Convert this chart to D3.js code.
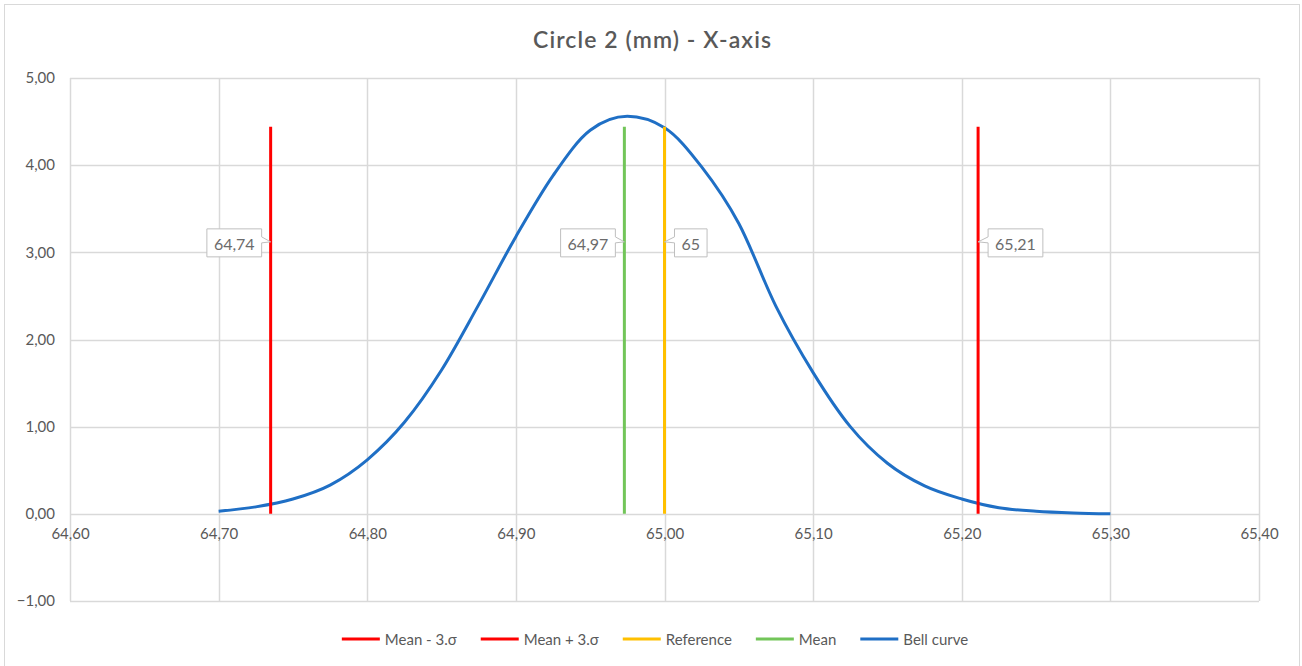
<!DOCTYPE html>
<html>
<head>
<meta charset="utf-8">
<script src="https://cdnjs.cloudflare.com/ajax/libs/d3/7.8.5/d3.min.js"></script>
<style>
  html, body { margin: 0; padding: 0; background: #fff; }
  svg { display: block; font-family: Lato, "Open Sans", sans-serif; }
</style>
</head>
<body>
<svg id="chart" width="1302" height="666"></svg>
<script>
// ---- data ----
const title = "Circle 2 (mm) - X-axis";
const xTicks = [64.6, 64.7, 64.8, 64.9, 65.0, 65.1, 65.2, 65.3, 65.4];
const yTicks = [-1, 0, 1, 2, 3, 4, 5];

const bellX = [64.700, 64.725, 64.750, 64.775, 64.800, 64.825, 64.850, 64.875, 64.900, 64.925,
               64.950, 64.975, 65.000, 65.025, 65.050, 65.075, 65.100, 65.125, 65.150, 65.175,
               65.200, 65.225, 65.250, 65.275, 65.300];
const bellY = [0.03, 0.08, 0.17, 0.33, 0.62, 1.05, 1.65, 2.40, 3.18, 3.88,
               4.40, 4.56, 4.43, 3.98, 3.33, 2.38, 1.62, 1.00, 0.58, 0.32,
               0.17, 0.07, 0.03, 0.01, 0.00];

const vNames  = ["Mean - 3.σ", "Mean + 3.σ", "Reference", "Mean"];
const vValues = [64.735, 65.211, 65.000, 64.973];
const vLabels = ["64,74", "65,21", "65", "64,97"];
const vLabelSide = ["left", "right", "right", "left"];
const vColors = ["#ff0000", "#ff0000", "#ffc000", "#72c559"];
const vTop = 4.44;
const vLabelAt = 3.12;

const legendNames  = ["Mean - 3.σ", "Mean + 3.σ", "Reference", "Mean", "Bell curve"];
const legendColors = ["#ff0000", "#ff0000", "#ffc000", "#72c559", "#1f6fc5"];
const bellColor = "#1f6fc5";

// ---- layout ----
const svg = d3.select("#chart");
const W = 1302, H = 666;
const plot = { left: 70, right: 1259, top: 78, bottom: 601 };
const x = d3.scaleLinear().domain([64.6, 65.4]).range([plot.left, plot.right]);
const y = d3.scaleLinear().domain([-1, 5]).range([plot.bottom, plot.top]);
const fmt = v => d3.format(".2f")(v).replace(".", ",");
const textColor = "#595959";
const gridColor = "#d9d9d9";

// outer frame
svg.append("rect").attr("x", 4.5).attr("y", 4.5).attr("width", 1295).attr("height", H)
  .attr("fill", "#fff").attr("stroke", "#d9d9d9").attr("stroke-width", 1);

// title
svg.append("text").attr("x", 652).attr("y", 48).attr("text-anchor", "middle")
  .attr("font-size", 23).attr("font-weight", 600).attr("fill", textColor)
  .attr("textLength", 238).attr("lengthAdjust", "spacing").text(title);

// grid
const g = svg.append("g");
g.selectAll("line.gx").data(xTicks).join("line").attr("class", "gx")
  .attr("x1", d => Math.round(x(d)) + 0.5).attr("x2", d => Math.round(x(d)) + 0.5)
  .attr("y1", plot.top).attr("y2", plot.bottom)
  .attr("stroke", gridColor).attr("stroke-width", 1.5);
g.selectAll("line.gy").data(yTicks).join("line").attr("class", "gy")
  .attr("y1", d => Math.round(y(d)) + 0.5).attr("y2", d => Math.round(y(d)) + 0.5)
  .attr("x1", plot.left).attr("x2", plot.right)
  .attr("stroke", gridColor).attr("stroke-width", 1.5);

// y axis labels
const yAxis = d3.axisLeft(y).tickValues(yTicks).tickFormat(fmt).tickSize(0).tickPadding(15);
const ya = svg.append("g").attr("transform", `translate(${plot.left},0)`).call(yAxis);
ya.select(".domain").remove();
ya.selectAll("text").attr("font-size", 15).attr("fill", textColor).attr("font-family", "Lato, sans-serif");

// x axis labels (at zero line)
const xAxis = d3.axisBottom(x).tickValues(xTicks).tickFormat(fmt).tickSize(0).tickPadding(15);
const xa = svg.append("g").attr("transform", `translate(0,${y(0)})`).call(xAxis);
xa.select(".domain").remove();
xa.selectAll("text").attr("font-size", 15).attr("fill", textColor).attr("font-family", "Lato, sans-serif");

// bell curve
const bell = bellX.map((d, i) => [d, bellY[i]]);
svg.append("path").datum(bell)
  .attr("d", d3.line().x(d => x(d[0])).y(d => y(d[1])).curve(d3.curveMonotoneX))
  .attr("fill", "none").attr("stroke", bellColor).attr("stroke-width", 3);

// vertical lines
vValues.forEach((v, i) => {
  svg.append("line").attr("x1", x(v)).attr("x2", x(v)).attr("y1", y(0)).attr("y2", y(vTop))
    .attr("stroke", vColors[i]).attr("stroke-width", 3);
});

// callout labels
vValues.forEach((v, i) => {
  const lx = x(v), ly = y(vLabelAt);
  const t = svg.append("text").attr("font-size", 16).attr("fill", "#6b6b6b")
    .attr("text-anchor", "middle").attr("dominant-baseline", "central").text(vLabels[i]);
  const tw = t.node().getComputedTextLength();
  const bw = tw + 14, bh = 28;
  const y0 = ly - 13, y1 = y0 + bh;
  let path;
  if (vLabelSide[i] === "left") {
    const x1 = lx - 9, x0 = x1 - bw;
    path = `M${x0},${y0}H${x1}V${y0 + 8}L${lx},${ly}L${x1},${y0 + 14}V${y1}H${x0}Z`;
    t.attr("x", (x0 + x1) / 2).attr("y", (y0 + y1) / 2 + 1);
  } else {
    const x0 = lx + 10, x1 = x0 + bw;
    path = `M${x0},${y0}H${x1}V${y1}H${x0}V${y0 + 14}L${lx},${ly}L${x0},${y0 + 8}Z`;
    t.attr("x", (x0 + x1) / 2).attr("y", (y0 + y1) / 2 + 1);
  }
  svg.insert("path", () => t.node()).attr("d", path)
    .attr("fill", "#fff").attr("stroke", "#bfbfbf").attr("stroke-width", 1);
});

// legend
const lg = svg.append("g");
const items = [];
legendNames.forEach((name, i) => {
  const it = lg.append("g");
  it.append("line").attr("x1", 0).attr("x2", 38).attr("y1", 0).attr("y2", 0)
    .attr("stroke", legendColors[i]).attr("stroke-width", 3);
  const t = it.append("text").attr("x", 43).attr("y", 0).attr("dominant-baseline", "central")
    .attr("font-size", 15).attr("fill", textColor).text(name);
  const w = 43 + t.node().getComputedTextLength();
  items.push({ it, w });
});
const gap = 24;
const total = d3.sum(items, d => d.w) + gap * (items.length - 1);
let cx = 655 - total / 2;
items.forEach(d => { d.it.attr("transform", `translate(${cx},639)`); cx += d.w + gap; });
</script>
</body>
</html>
